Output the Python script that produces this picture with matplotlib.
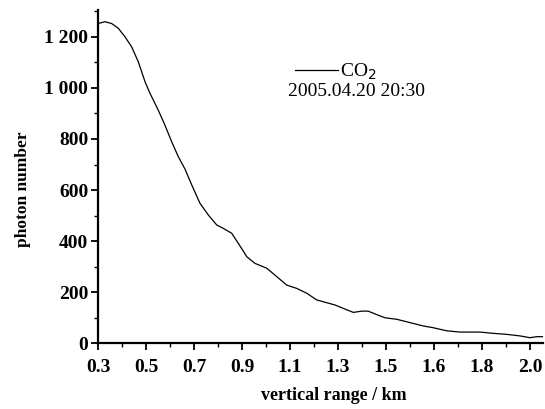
import matplotlib
matplotlib.use("Agg")
import matplotlib.pyplot as plt
from matplotlib.ticker import MultipleLocator

# axis positions (evenly spaced ticks) and their printed labels
tick_pos = [0.3, 0.5, 0.7, 0.9, 1.1, 1.3, 1.5, 1.7, 1.9, 2.1]
tick_labels = ["0.3", "0.5", "0.7", "0.9", "1.1", "1.3", "1.5", "1.6", "1.8", "2.0"]

y_ticks = [0, 200, 400, 600, 800, 1000, 1200]
y_labels = ["0", "200", "400", "600", "800", "1 000", "1 200"]

# CO2 photon counts
rng = [0.301, 0.329, 0.357, 0.385, 0.4125, 0.440, 0.468, 0.496, 0.517, 0.551,
       0.579, 0.607, 0.635, 0.6625, 0.692, 0.725, 0.760, 0.795, 0.822, 0.857,
       0.885, 0.920, 0.954, 1.003, 1.045, 1.086, 1.128, 1.170, 1.211, 1.253,
       1.2875, 1.329, 1.364, 1.399, 1.426, 1.454, 1.496, 1.545, 1.600, 1.655,
       1.697, 1.753, 1.808, 1.892, 1.947, 2.003, 2.058, 2.100, 2.128, 2.154]
photons = [1252, 1259, 1252, 1233, 1200, 1161, 1102, 1024, 978, 913,
           854, 789, 730, 682, 617, 548, 502, 463, 450, 431,
           391, 339, 313, 294, 261, 228, 215, 196, 170, 159,
           150, 134, 121, 126, 126, 115, 100, 94, 81, 68,
           61, 49, 44, 44, 39, 35, 29, 22, 26, 26]

plt.rcParams["font.family"] = "Liberation Serif"

fig = plt.figure(figsize=(5.45, 4.09), dpi=100)
ax = fig.add_axes([0.1798, 0.1606, 0.8165, 0.815])

ax.plot(rng, photons, color="black", lw=0.9, label="CO$_2$",
        solid_joinstyle="round")

ax.set_xlim(0.3, 2.154)
ax.set_ylim(0, 1305)
ax.set_xticks(tick_pos)
ax.set_xticklabels(tick_labels)
ax.set_yticks(y_ticks)
ax.set_yticklabels(y_labels)
ax.xaxis.set_minor_locator(MultipleLocator(0.1))
ax.yaxis.set_minor_locator(MultipleLocator(100))

for s in ["top", "right"]:
    ax.spines[s].set_visible(False)
for s in ["left", "bottom"]:
    ax.spines[s].set_linewidth(1.6)

ax.tick_params(which="major", direction="out", length=5, width=1.3,
               labelsize=14)
ax.tick_params(axis="x", which="major", pad=6)
ax.tick_params(axis="y", which="major", pad=2)
ax.tick_params(which="minor", direction="out", length=3, width=1.0)
for lab in ax.get_xticklabels() + ax.get_yticklabels():
    lab.set_fontweight("bold")

ax.set_xlabel("vertical range / km", fontsize=13, fontweight="bold")
ax.set_ylabel("photon number", fontsize=12.5, fontweight="bold")
ax.xaxis.set_label_coords(0.53, -0.13)
ax.yaxis.set_label_coords(-0.15, 0.462)

ax.legend(loc="center left", bbox_to_anchor=(0.443, 0.814), frameon=False,
          handlelength=2.2, handletextpad=0.1, borderaxespad=0, borderpad=0,
          prop={"size": 14})
ax.text(0.428, 0.754, "2005.04.20 20:30", transform=ax.transAxes,
        fontsize=14, ha="left", va="center")

plt.savefig("out.png", dpi=100)
